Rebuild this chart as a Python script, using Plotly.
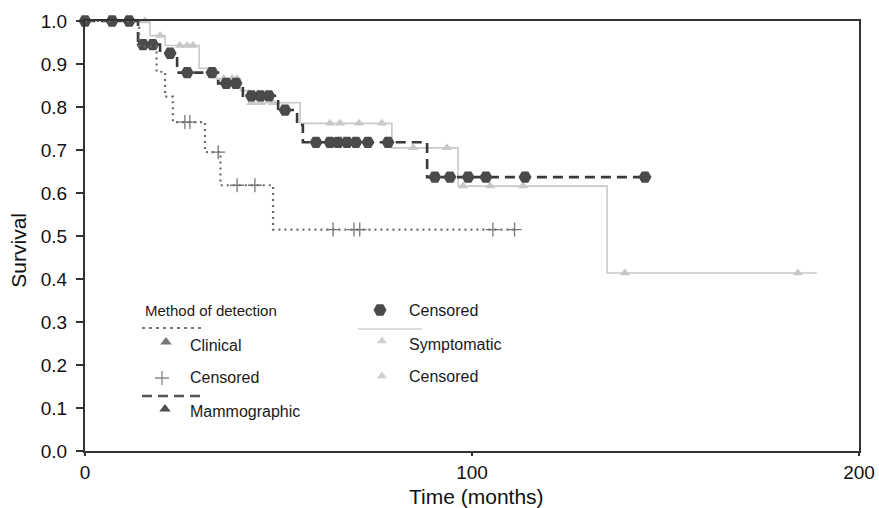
import numpy as np
import plotly.graph_objects as go

# ---------------- data ----------------
# Clinical detection
clin_times = [0, 14.0, 18.5, 20.7, 22.7, 31.0, 35.0, 48.6]
clin_surv = [1.0, 0.941, 0.882, 0.824, 0.765, 0.695, 0.618, 0.515]
clin_end = 112.0
clin_censor = [25.8, 27.1, 34.4, 39.3, 43.9, 64.1, 69.5, 71.0, 105.4, 111.0]

# Mammographic detection
mam_times = [0, 13.7, 19.4, 23.8, 34.4, 40.8, 49.9, 54.8, 56.3, 88.4]
mam_surv = [1.0, 0.945, 0.925, 0.88, 0.855, 0.826, 0.793, 0.758, 0.718, 0.637]
mam_end = 144.7
mam_censor = [0, 7, 11.4, 15, 17.5, 22, 26.4, 32.8, 36.5, 39, 43, 45.3, 47.5, 51.7,
              59.7, 63.3, 65.4, 67.7, 70, 73.1, 78.3, 90.4, 94.3, 99, 103.6, 113.7, 144.7]

# Symptomatic detection
sym_times = [0, 16.8, 20.7, 29.5, 33.9, 40.2, 42.3, 55.6, 79.3, 96.4, 134.9]
sym_surv = [1.0, 0.966, 0.943, 0.89, 0.866, 0.838, 0.81, 0.762, 0.705, 0.616, 0.414]
sym_end = 189.1
sym_censor = [0, 7, 15.5, 19.4, 24.5, 26.4, 27.9, 35.9, 38.0, 39.3, 43.0, 45.5, 48.6,
              63.3, 65.9, 70.8, 76.7, 84.8, 93.5, 97.7, 104.7, 113.2, 139.5, 184.2]

x_ticks = [0, 100, 200]
y_ticks = [round(v * 0.1, 1) for v in range(11)]

FONT = "Liberation Sans, Arial, sans-serif"


def step_xy(times, surv, end):
    return list(times) + [end], list(surv) + [surv[-1]]


def surv_at(times, surv, tc):
    idx = np.searchsorted(np.array(times), np.array(tc), side="right") - 1
    return [surv[i] for i in idx]


fig = go.Figure()

# Symptomatic
sx, sy = step_xy(sym_times, sym_surv, sym_end)
fig.add_trace(go.Scatter(x=sx, y=sy, mode="lines", line=dict(shape="hv", color="#c9c9c9", width=1.6),
                         showlegend=False, cliponaxis=False))
fig.add_trace(go.Scatter(x=sym_censor, y=surv_at(sym_times, sym_surv, sym_censor), mode="markers",
                         marker=dict(symbol="triangle-up", size=9, color="#c8c8c8"),
                         showlegend=False, cliponaxis=False))

# Mammographic
mx, my = step_xy(mam_times, mam_surv, mam_end)
fig.add_trace(go.Scatter(x=mx, y=my, mode="lines",
                         line=dict(shape="hv", color="#3a3a3a", width=2.6, dash="10px,6px"),
                         showlegend=False, cliponaxis=False))
fig.add_trace(go.Scatter(x=mam_censor, y=surv_at(mam_times, mam_surv, mam_censor), mode="markers",
                         marker=dict(symbol="hexagon2", size=13, color="#4a4a4a"),
                         showlegend=False, cliponaxis=False))

# Clinical
cx, cy = step_xy(clin_times, clin_surv, clin_end)
fig.add_trace(go.Scatter(x=cx, y=cy, mode="lines",
                         line=dict(shape="hv", color="#6a6a6a", width=2.2, dash="2px,4px"),
                         showlegend=False, cliponaxis=False))
fig.add_trace(go.Scatter(x=clin_censor, y=surv_at(clin_times, clin_surv, clin_censor), mode="markers",
                         marker=dict(symbol="cross-thin", size=10, line=dict(color="#777777", width=1.3)),
                         showlegend=False, cliponaxis=False))

# ---------------- in-plot legend (overlay axes in page pixels) ----------------
leg_texts = [
    ("Method of detection", 143, 310, 15),
    ("Clinical", 188, 345, 16),
    ("Censored", 188, 377, 16),
    ("Mammographic", 188, 411, 16),
    ("Censored", 407, 310, 16),
    ("Symptomatic", 407, 344, 16),
    ("Censored", 407, 376, 16),
]
leg_lines = [
    (142, 204, 328, dict(color="#777777", width=2, dash="3px,4px")),
    (142, 205, 396, dict(color="#555555", width=2.4, dash="10px,6px")),
    (358, 422, 329, dict(color="#d0d0d0", width=1.4)),
]
leg_marks = [
    (166, 342, "triangle-up", 10, "#777777", None),
    (162, 378, "cross-thin", 10, None, "#888888"),
    (165, 409, "triangle-up", 10, "#4f4f4f", None),
    (380, 310, "hexagon2", 13, "#4a4a4a", None),
    (382, 341, "triangle-up", 9, "#cfcfcf", None),
    (382, 376, "triangle-up", 9, "#cfcfcf", None),
]
for (x, y, sym, size, col, lcol) in leg_marks:
    mk = dict(symbol=sym, size=size)
    if col:
        mk["color"] = col
    if lcol:
        mk["line"] = dict(color=lcol, width=1.3)
    fig.add_trace(go.Scatter(x=[x], y=[y], xaxis="x2", yaxis="y2", mode="markers",
                             marker=mk, showlegend=False, hoverinfo="skip"))
for (x0, x1, y, ln) in leg_lines:
    fig.add_shape(type="line", xref="x2", yref="y2", x0=x0, x1=x1, y0=y, y1=y, line=ln)
for (t, x, y, fs) in leg_texts:
    fig.add_annotation(text=t, xref="x2", yref="y2", x=x, y=y, xanchor="left", yanchor="middle",
                       showarrow=False, font=dict(family=FONT, size=fs, color="#1a1a1a"))

# axis titles
fig.add_annotation(text="Time (months)", xref="x2", yref="paper", x=476, y=-0.105,
                   xanchor="center", yanchor="middle", showarrow=False,
                   font=dict(family=FONT, size=21, color="#111"))
fig.add_annotation(text="Survival", xref="paper", yref="y2", x=-0.087, y=250,
                   xanchor="center", yanchor="middle", showarrow=False, textangle=-90,
                   font=dict(family=FONT, size=21, color="#111"))

fig.update_layout(
    width=879, height=508,
    margin=dict(l=85, r=20, t=21, b=57, autoexpand=False),
    paper_bgcolor="white", plot_bgcolor="white",
    font=dict(family=FONT, color="#111"),
    xaxis=dict(range=[0, 200], tickvals=x_ticks, ticks="outside", ticklen=3, tickwidth=1.5,
               tickcolor="#333", showline=True, linecolor="#333", linewidth=2, mirror=True,
               showgrid=False, zeroline=False, automargin=False,
               tickfont=dict(size=19, family=FONT, color="#111")),
    yaxis=dict(range=[0, 1], tickvals=y_ticks, tickformat=".1f", ticks="outside", ticklen=7,
               tickwidth=1.5, tickcolor="#333", showline=True, linecolor="#333", linewidth=2,
               mirror=True, showgrid=False, zeroline=False, ticklabelstandoff=5, automargin=False,
               tickfont=dict(size=19, family=FONT, color="#111")),
    xaxis2=dict(overlaying="x", anchor="y2", range=[85, 859], visible=False, fixedrange=True,
                automargin=False),
    yaxis2=dict(overlaying="y", anchor="x2", range=[451, 21], visible=False, fixedrange=True,
                automargin=False),
    showlegend=False,
)

fig.write_html(
    "out.html",
    config={"displayModeBar": False},
    post_script="document.body.style.margin='0';document.body.style.overflow='hidden';",
)
